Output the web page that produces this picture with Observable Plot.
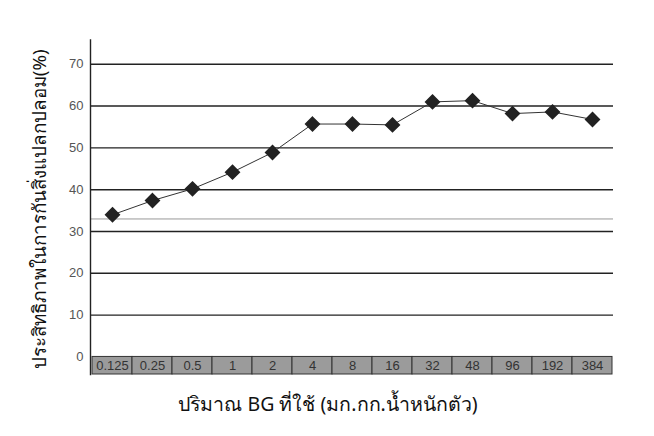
<!DOCTYPE html>
<html>
<head>
<meta charset="utf-8">
<script src="https://cdn.jsdelivr.net/npm/d3@7"></script>
<script src="https://cdn.jsdelivr.net/npm/@observablehq/plot@0.6"></script>
<style>
  html, body { margin: 0; padding: 0; background: #fff; }
  #chart svg { display: block; }
</style>
</head>
<body>
<div id="chart"></div>
<script>
const doses = ["0.125", "0.25", "0.5", "1", "2", "4", "8", "16", "32", "48", "96", "192", "384"];
const efficacy = [34.0, 37.4, 40.2, 44.2, 48.9, 55.7, 55.7, 55.5, 61.0, 61.3, 58.2, 58.6, 56.8];
const yTicks = [0, 10, 20, 30, 40, 50, 60, 70];
const referenceLevel = [33.0];
const yLabel = "ประสิทธิภาพในการกันสิ่งแปลกปลอม(%)";
const xLabel = "ปริมาณ BG ที่ใช้ (มก.กก.น้ำหนักตัว)";

const data = doses.map((d, i) => ({dose: d, value: efficacy[i]}));
const gridTicks = yTicks.filter(t => t > 0);
const bandLow = -4.2;

const chart = Plot.plot({
  width: 654,
  height: 436,
  marginLeft: 90,
  marginRight: 41,
  marginTop: 39.5,
  marginBottom: 62,
  style: {fontFamily: "'Liberation Sans', Arial, sans-serif", background: "#fff"},
  x: {type: "band", domain: doses, padding: 0, axis: null},
  y: {domain: [bandLow, 75.8], ticks: yTicks, tickSize: 0, tickPadding: 7, label: null},
  marks: [
    Plot.axisY({ticks: yTicks, tickSize: 0, tickPadding: 7, fontSize: 13, fill: "#555", label: null}),
    Plot.ruleY(gridTicks, {stroke: "#222", strokeWidth: 1.4}),
    Plot.ruleY(referenceLevel, {stroke: "#999", strokeWidth: 1}),
    Plot.frame({anchor: "left", stroke: "#222", strokeWidth: 1.4}),
    Plot.barY(data, {x: "dose", y1: bandLow, y2: 0, fill: "#9b9b9b", stroke: "#333", strokeWidth: 1, inset: 0}),
    Plot.text(data, {x: "dose", y: bandLow / 2, text: "dose", fill: "#333", fontSize: 13}),
    Plot.line(data, {x: "dose", y: "value", stroke: "#333", strokeWidth: 1}),
    Plot.dot(data, {x: "dose", y: "value", symbol: "diamond2", r: 6.2, fill: "#222", stroke: "#222"}),
    Plot.text([yLabel], {frameAnchor: "left", textAnchor: "middle", dx: -51, dy: 2, rotate: -90, fontSize: 18.8, fill: "#111", fontFamily: "'Noto Sans', sans-serif"}),
    Plot.text([xLabel], {frameAnchor: "bottom", textAnchor: "middle", dx: -24, dy: 36, fontSize: 19.5, fill: "#111", fontFamily: "'Noto Sans', sans-serif"})
  ]
});
document.getElementById("chart").appendChild(chart);
</script>
</body>
</html>
